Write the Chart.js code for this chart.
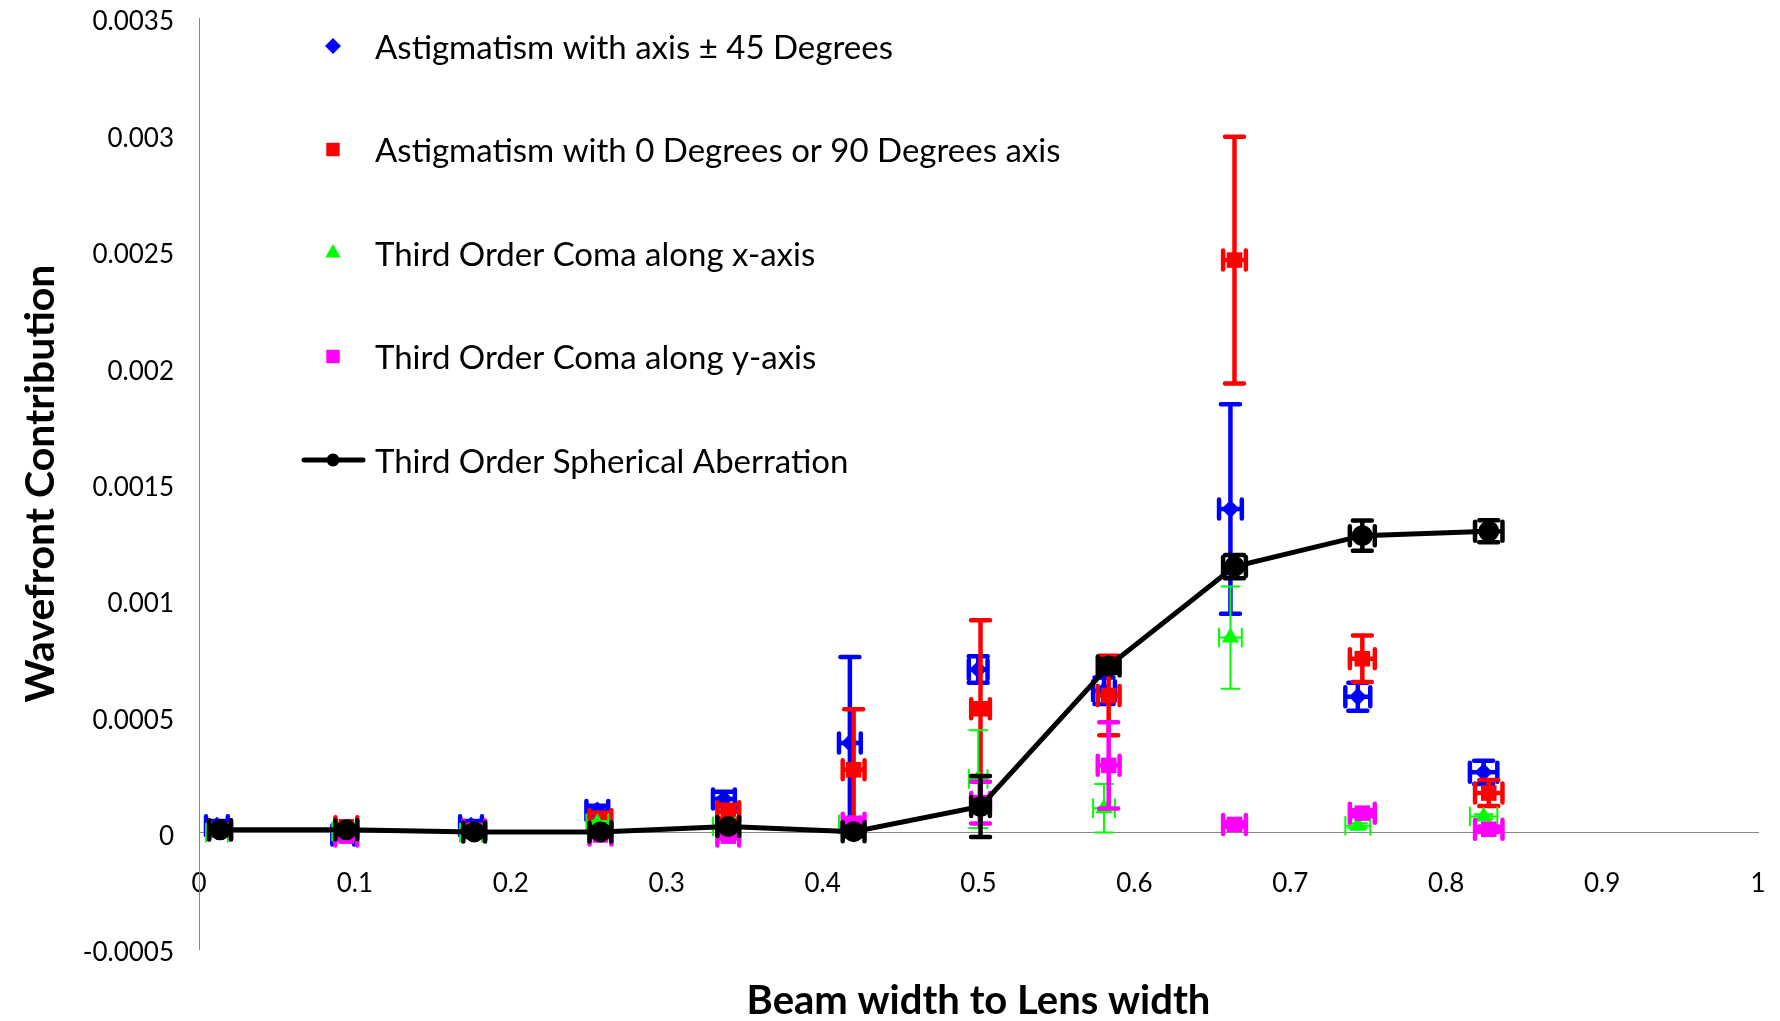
<!DOCTYPE html>
<html>
<head>
<meta charset="utf-8">
<script src="https://cdn.jsdelivr.net/npm/chart.js@4.4.0/dist/chart.umd.min.js"></script>
<style>
  html, body { margin: 0; padding: 0; background: #fff; }
</style>
</head>
<body>
<canvas id="chart" width="1780" height="1021"></canvas>
<script>
// data
const xValues        = [0.0135, 0.0945, 0.1765, 0.2575, 0.3395, 0.4199, 0.5013, 0.5835, 0.6642, 0.7462, 0.8273];
const xValuesShifted = [0.0115, 0.0925, 0.1745, 0.2555, 0.3367, 0.4175, 0.4998, 0.5805, 0.6616, 0.7433, 0.8240];
const xErr           = [0.007, 0.007, 0.007, 0.007, 0.007, 0.007, 0.006, 0.007, 0.0073, 0.008, 0.0088];

const astig45Y    = [0.00003, -0.00001, 0.00003, 0.000095, 0.000144, 0.000385, 0.000701, 0.00061, 0.00139, 0.000584, 0.000259];
const astig45Err  = [0.00002, 0.00002, 0.00002, 0.00002, 0.000032, 0.00037, 0.000057, 0.000057, 0.00045, 0.00006, 0.00005];
const astig090Y   = [0.000012, 0.000025, 0.00001, 0.000055, 0.00009, 0.00027, 0.000532, 0.000589, 0.00246, 0.000747, 0.00017];
const astig090Err = [0.00001, 0.00001, 0.00001, 0.00003, 0.00003, 0.00026, 0.00038, 0.000171, 0.00053, 0.0001, 0.000056];
const comaXY      = [0.0, 0.000005, 0.0, 0.00004, 0.000026, 0.000035, 0.00023, 0.000105, 0.000838, 0.00003, 0.000069];
const comaXErr    = [0.00001, 0.00001, 0.00001, 0.00001, 0.00001, 0.00001, 0.00021, 0.000104, 0.00022, 0.00001, 0.00001];
const comaYY      = [0.00001, -0.000015, 0.00001, -0.00001, -0.000015, 0.00004, 0.000129, 0.000289, 0.000035, 0.0000836, 0.0000146];
const comaYErr    = [0.00001, 0.00001, 0.00001, 0.00001, 0.00001, 0.00002, 0.00009, 0.000185, 0.00001, 0.000013, 0.000012];
const spherY      = [0.000012, 0.000012, 0.000003, 0.000003, 0.000026, 0.000004, 0.000112, 0.000716, 0.001143, 0.001276, 0.001295];
const spherErr    = [0.00001, 0.00001, 0.00002, 0.00002, 0.00001, 0.00002, 0.000131, 0.00003, 0.00005, 0.000065, 0.000047];

const seriesLabels = [
  "Astigmatism with axis \u00b1 45 Degrees",
  "Astigmatism with 0 Degrees or 90 Degrees axis",
  "Third Order Coma along x-axis",
  "Third Order Coma along y-axis",
  "Third Order Spherical Aberration"
];

const xTicks = [0, 0.1, 0.2, 0.3, 0.4, 0.5, 0.6, 0.7, 0.8, 0.9, 1];
const xTickLabels = ["0", "0.1", "0.2", "0.3", "0.4", "0.5", "0.6", "0.7", "0.8", "0.9", "1"];
const yTicks = [-0.0005, 0, 0.0005, 0.001, 0.0015, 0.002, 0.0025, 0.003, 0.0035];
const yTickLabels = ["-0.0005", "0", "0.0005", "0.001", "0.0015", "0.002", "0.0025", "0.003", "0.0035"];

const FONT = "Lato";

function pts(xs, ys){ return xs.map((x, i) => ({x: x, y: ys[i]})); }

// marker shapes for the legend (same look as the chart points)
function drawMarker(ctx, style, x, y, r, color){
  ctx.fillStyle = color;
  ctx.beginPath();
  if (style === "rectRot") {
    ctx.moveTo(x, y - r); ctx.lineTo(x + r, y); ctx.lineTo(x, y + r); ctx.lineTo(x - r, y);
  } else if (style === "rect") {
    const s = r * Math.SQRT1_2;
    ctx.rect(x - s, y - s, 2 * s, 2 * s);
  } else if (style === "triangle") {
    ctx.moveTo(x, y - r);
    ctx.lineTo(x + r * Math.sin(Math.PI * 2 / 3), y - r * Math.cos(Math.PI * 2 / 3));
    ctx.lineTo(x + r * Math.sin(Math.PI * 4 / 3), y - r * Math.cos(Math.PI * 4 / 3));
  } else {
    ctx.arc(x, y, r, 0, Math.PI * 2);
  }
  ctx.closePath();
  ctx.fill();
}

// error bars drawn under each dataset's own markers
const errorBars = {
  id: "errorBars",
  beforeDatasetDraw(chart, args){
    const ds = chart.data.datasets[args.index];
    if (!ds.errY) return;
    const xs = chart.scales.x, ys = chart.scales.y, ctx = chart.ctx;
    const cap = ds.capSize / 2;
    ctx.save();
    ctx.strokeStyle = ds.borderColor;
    ctx.lineWidth = ds.errWidth;
    ctx.lineCap = "round";
    ds.data.forEach((p, i) => {
      const px = xs.getPixelForValue(p.x), py = ys.getPixelForValue(p.y);
      const y0 = ys.getPixelForValue(p.y - ds.errY[i]), y1 = ys.getPixelForValue(p.y + ds.errY[i]);
      const x0 = xs.getPixelForValue(p.x - ds.errX[i]), x1 = xs.getPixelForValue(p.x + ds.errX[i]);
      ctx.beginPath();
      ctx.moveTo(px, y0); ctx.lineTo(px, y1);
      ctx.moveTo(px - cap, y0); ctx.lineTo(px + cap, y0);
      ctx.moveTo(px - cap, y1); ctx.lineTo(px + cap, y1);
      ctx.moveTo(x0, py); ctx.lineTo(x1, py);
      ctx.moveTo(x0, py - cap); ctx.lineTo(x0, py + cap);
      ctx.moveTo(x1, py - cap); ctx.lineTo(x1, py + cap);
      ctx.stroke();
    });
    ctx.restore();
  }
};

// legend inside the plot, one row per series
const insideLegend = {
  id: "insideLegend",
  afterDraw(chart, args, opts){
    const ctx = chart.ctx;
    ctx.save();
    ctx.font = opts.fontSize + "px " + FONT;
    ctx.textBaseline = "middle";
    ctx.textAlign = "left";
    chart.data.datasets.forEach((ds, i) => {
      const y = opts.top + i * opts.step;
      if (ds.showLine) {
        ctx.strokeStyle = ds.borderColor;
        ctx.lineWidth = ds.borderWidth;
        ctx.lineCap = "round";
        ctx.beginPath();
        ctx.moveTo(opts.markerX - 29, y); ctx.lineTo(opts.markerX + 30, y);
        ctx.stroke();
      }
      drawMarker(ctx, ds.pointStyle, opts.markerX, y, ds.legendRadius, ds.backgroundColor);
      ctx.fillStyle = "#000";
      ctx.fillText(ds.label, opts.textX, y + 2);
    });
    ctx.restore();
  }
};

new Chart(document.getElementById("chart"), {
  type: "scatter",
  data: {
    datasets: [
      { label: seriesLabels[0], data: pts(xValuesShifted, astig45Y), errY: astig45Err, errX: xErr,
        pointStyle: "rectRot", pointRadius: 9, legendRadius: 8, backgroundColor: "#0000ff", borderColor: "#0000ff",
        errWidth: 4.5, capSize: 19, order: 5 },
      { label: seriesLabels[1], data: pts(xValues, astig090Y), errY: astig090Err, errX: xErr,
        pointStyle: "rect", pointRadius: 11, legendRadius: 9.5, backgroundColor: "#ff0000", borderColor: "#ff0000",
        errWidth: 4.5, capSize: 19, order: 4 },
      { label: seriesLabels[2], data: pts(xValuesShifted, comaXY), errY: comaXErr, errX: xErr,
        pointStyle: "triangle", pointRadius: 10, legendRadius: 9, backgroundColor: "#00ff00", borderColor: "#00ff00",
        errWidth: 2, capSize: 18, order: 3 },
      { label: seriesLabels[3], data: pts(xValues, comaYY), errY: comaYErr, errX: xErr,
        pointStyle: "rect", pointRadius: 11, legendRadius: 9.5, backgroundColor: "#ff00ff", borderColor: "#ff00ff",
        errWidth: 4.5, capSize: 19, order: 2 },
      { label: seriesLabels[4], data: pts(xValues, spherY), errY: spherErr, errX: xErr,
        pointStyle: "circle", pointRadius: 8, legendRadius: 6.5, backgroundColor: "#000000", borderColor: "#000000",
        showLine: true, borderWidth: 5, tension: 0, errWidth: 4.5, capSize: 19, order: 1 }
    ]
  },
  options: {
    responsive: false,
    devicePixelRatio: 1,
    animation: false,
    layout: { padding: { top: 18, right: 22, bottom: 0, left: 0 } },
    elements: { point: { borderWidth: 0, hoverRadius: 8 } },
    plugins: {
      legend: { display: false },
      tooltip: { enabled: false },
      title: {
        display: true, position: "bottom", fullSize: false,
        text: "Beam width to Lens width", color: "#000",
        font: { family: FONT, size: 40, weight: "bold", lineHeight: 1 },
        padding: { top: 32, bottom: 0 }
      },
      insideLegend: { top: 46, step: 103.5, markerX: 333, textX: 375, fontSize: 33 }
    },
    scales: {
      x: {
        type: "linear", min: 0, max: 1, position: { y: 0 },
        grid: { display: false, drawTicks: false },
        border: { display: true, color: "#868686", width: 1 },
        afterBuildTicks: s => { s.ticks = xTicks.map(v => ({ value: v })); },
        afterFit: s => { s.paddingLeft = 0; s.paddingRight = 0; },
        ticks: { autoSkip: false, maxRotation: 0, padding: 35, color: "#000",
                 font: { family: FONT, size: 26 }, callback: (v, i) => xTickLabels[i] }
      },
      y: {
        type: "linear", min: -0.0005, max: 0.0035,
        grid: { display: false, drawTicks: false },
        border: { display: true, color: "#868686", width: 1 },
        afterBuildTicks: s => { s.ticks = yTicks.map(v => ({ value: v })); },
        afterFit: s => { s.width = 199; s.paddingTop = 0; s.paddingBottom = 0; },
        ticks: { padding: 25, labelOffset: 4, color: "#000",
                 font: { family: FONT, size: 26 }, callback: (v, i) => yTickLabels[i] },
        title: { display: true, text: "Wavefront Contribution", color: "#000",
                 font: { family: FONT, size: 41, weight: "bold", lineHeight: 1 },
                 padding: { top: 20, bottom: 0 } }
      }
    }
  },
  plugins: [errorBars, insideLegend]
});
</script>
</body>
</html>
